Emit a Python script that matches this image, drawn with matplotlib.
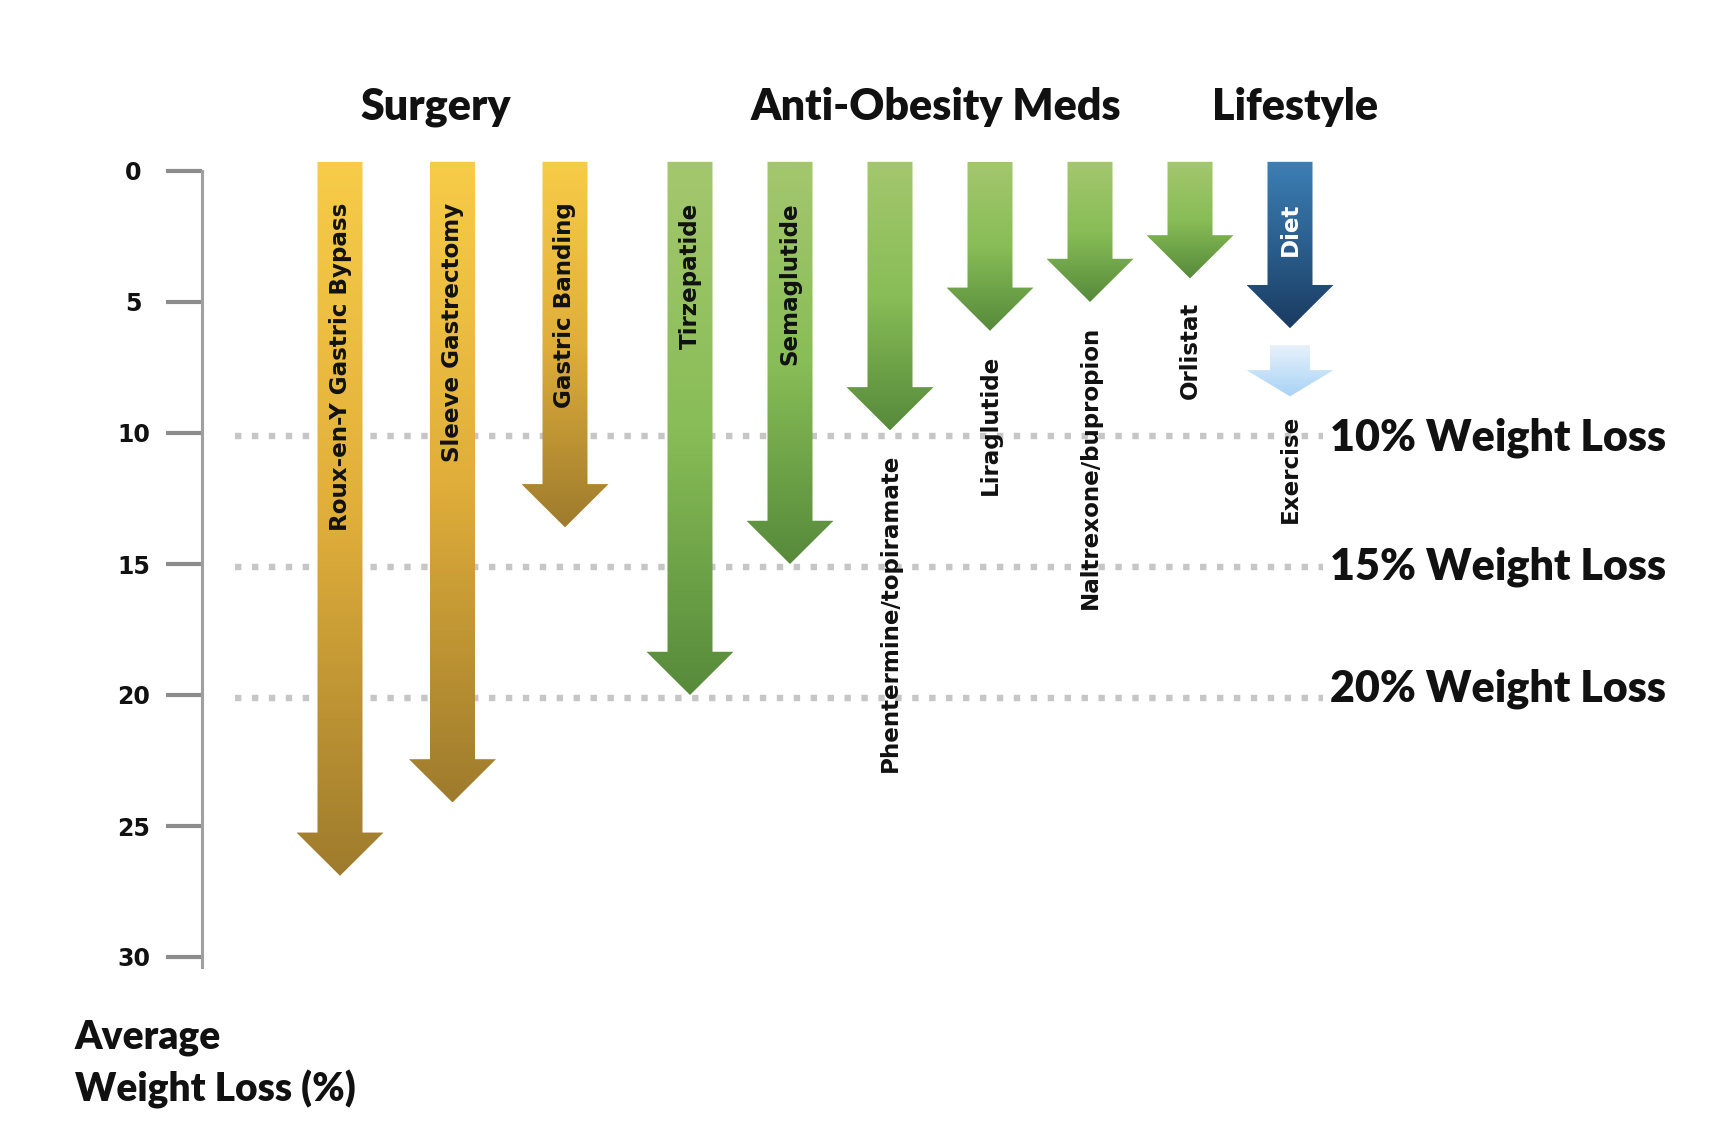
import numpy as np
import matplotlib
matplotlib.use("Agg")
import matplotlib.pyplot as plt
from matplotlib.patches import Polygon
from matplotlib.colors import LinearSegmentedColormap

# ---------------- data ----------------
treatments = ["Roux-en-Y Gastric Bypass", "Sleeve Gastrectomy", "Gastric Banding",
              "Tirzepatide", "Semaglutide", "Phentermine/topiramate", "Liraglutide",
              "Naltrexone/bupropion", "Orlistat", "Diet"]
groups = ["Surgery"] * 3 + ["Anti-Obesity Meds"] * 6 + ["Lifestyle"]
weight_loss = [26.9, 24.1, 13.6, 20.0, 15.0, 9.9, 6.1, 5.0, 4.1, 6.0]
exercise_label = "Exercise"
diet_plus_exercise = 8.6
thresholds = [10, 15, 20]
threshold_labels = ["10% Weight Loss", "15% Weight Loss", "20% Weight Loss"]
y_ticks = [0, 5, 10, 15, 20, 25, 30]
group_titles = ["Surgery", "Anti-Obesity Meds", "Lifestyle"]
axis_title = ["Average", "Weight Loss (%)"]

# ---------------- style / layout ----------------
label_inside = [True] * 5 + [False] * 4 + [True]
group_colors = {
    "Surgery": ["#F7CC48", "#E0AE3A", "#9E7B2D"],
    "Anti-Obesity Meds": ["#A4C76E", "#88BD57", "#578A3A"],
    "Lifestyle": ["#3D7FB4", "#2A5F8E", "#1B3B61"],
}
exercise_colors = ["#E9F2FB", "#A8D3F6"]
step = {"Surgery": 1.125, "Anti-Obesity Meds": 1.0, "Lifestyle": 1.0}
gap = {("Surgery", "Anti-Obesity Meds"): 1.25, ("Anti-Obesity Meds", "Lifestyle"): 1.0}
title_shift = {"Surgery": -0.17, "Anti-Obesity Meds": -0.04, "Lifestyle": 0.05}
threshold_label_shift = [0.2, 0.1, -0.25]

xs = [0.0]
for i in range(1, len(groups)):
    if groups[i] == groups[i - 1]:
        xs.append(xs[-1] + step[groups[i]])
    else:
        xs.append(xs[-1] + gap[(groups[i - 1], groups[i])])

W, H = 1714, 1148
PX_X = 100.0   # px per slot unit
PX_Y = 26.2    # px per % unit
X0, Y0 = 340.0, 171.0

fig = plt.figure(figsize=(W / 100, H / 100), dpi=100)
ax = fig.add_axes([0, 0, 1, 1])
ax.set_facecolor("white")

HEAD_FONT = "Lato"
HEAD_WEIGHT = "heavy"
LABEL_FONT = "DejaVu Sans"
LABEL_SIZE = 16.6
ARROW_TOP = -0.35


def draw_arrow(x, top, tip, colors, sw=0.225, hw=0.435, hl=1.65):
    verts = [(x - sw, top), (x + sw, top), (x + sw, tip - hl), (x + hw, tip - hl),
             (x, tip), (x - hw, tip - hl), (x - sw, tip - hl)]
    poly = Polygon(verts, closed=True, facecolor="none", edgecolor="none")
    ax.add_patch(poly)
    cmap = LinearSegmentedColormap.from_list("grad", colors)
    grad = np.linspace(0, 1, 256).reshape(-1, 1)
    im = ax.imshow(grad, cmap=cmap, extent=(x - hw, x + hw, tip, top), origin="upper",
                   aspect="auto", interpolation="bilinear", zorder=2)
    im.set_clip_path(poly)


# threshold dotted lines
for t in thresholds:
    ax.plot([xs[0] - 1.05, xs[-1] + 0.33], [t + 0.12, t + 0.12], color="#C6C6C6", lw=4.6,
            linestyle=(0, (1.0, 1.65)), dash_capstyle="butt", zorder=1)

# arrows + labels
for x, name, g, v, inside in zip(xs, treatments, groups, weight_loss, label_inside):
    draw_arrow(x, ARROW_TOP, v, group_colors[g])
    color = "white" if g == "Lifestyle" else "#111111"
    if inside:
        ax.text(x, 1.2, name, rotation=90, ha="center", va="top", fontsize=LABEL_SIZE,
                fontweight="bold", family=LABEL_FONT, color=color, zorder=3)
    else:
        ax.text(x, v + 0.9, name, rotation=90, ha="center", va="top", fontsize=LABEL_SIZE,
                fontweight="bold", family=LABEL_FONT, color=color, zorder=3)

# exercise arrow (below diet)
diet_x = xs[-1]
ex_top = weight_loss[-1] + 0.65
draw_arrow(diet_x, ex_top, diet_plus_exercise, exercise_colors, sw=0.2, hw=0.435, hl=1.0)
ax.text(diet_x, diet_plus_exercise + 0.7, exercise_label, rotation=90, ha="center", va="top",
        fontsize=LABEL_SIZE, fontweight="bold", family=LABEL_FONT, color="#111111", zorder=3)

# group titles
for gt in group_titles:
    gx = np.mean([x for x, g in zip(xs, groups) if g == gt]) + title_shift[gt]
    ax.text(gx, -1.95, gt, ha="center", va="baseline", fontsize=31, fontweight=HEAD_WEIGHT,
            family=HEAD_FONT, color="#111111")

# threshold labels
for t, lab, dy in zip(thresholds, threshold_labels, threshold_label_shift):
    ax.text(xs[-1] + 0.4, t + dy, lab, ha="left", va="center", fontsize=31, fontweight=HEAD_WEIGHT,
            family=HEAD_FONT, color="#111111")

# axis title
ax.text(-2.65, 33.5, axis_title[0], ha="left", va="baseline", fontsize=28, fontweight=HEAD_WEIGHT,
        family=HEAD_FONT, color="#111111")
ax.text(-2.65, 35.5, axis_title[1], ha="left", va="baseline", fontsize=28, fontweight=HEAD_WEIGHT,
        family=HEAD_FONT, color="#111111")

# axes / spine
ax.set_xlim(-X0 / PX_X, (W - X0) / PX_X)
ax.set_ylim((H - Y0) / PX_Y, -Y0 / PX_Y)
for s in ["top", "right", "bottom"]:
    ax.spines[s].set_visible(False)
ax.spines["left"].set_position(("data", (201.5 - X0) / PX_X))
ax.spines["left"].set_bounds(0, 30.4)
ax.spines["left"].set_color("#A0A0A0")
ax.spines["left"].set_linewidth(2.2)
ax.set_xticks([])
ax.set_yticks(y_ticks)
ax.set_yticklabels([str(t) for t in y_ticks])
ax.tick_params(axis="y", direction="out", length=26, width=3, color="#8C8C8C", pad=23)
for lab in ax.get_yticklabels():
    lab.set_ha("center")
    lab.set_fontsize(17)
    lab.set_fontweight("bold")
    lab.set_family(LABEL_FONT)
    lab.set_color("#111111")

fig.savefig("out.png", dpi=100, facecolor="white")
